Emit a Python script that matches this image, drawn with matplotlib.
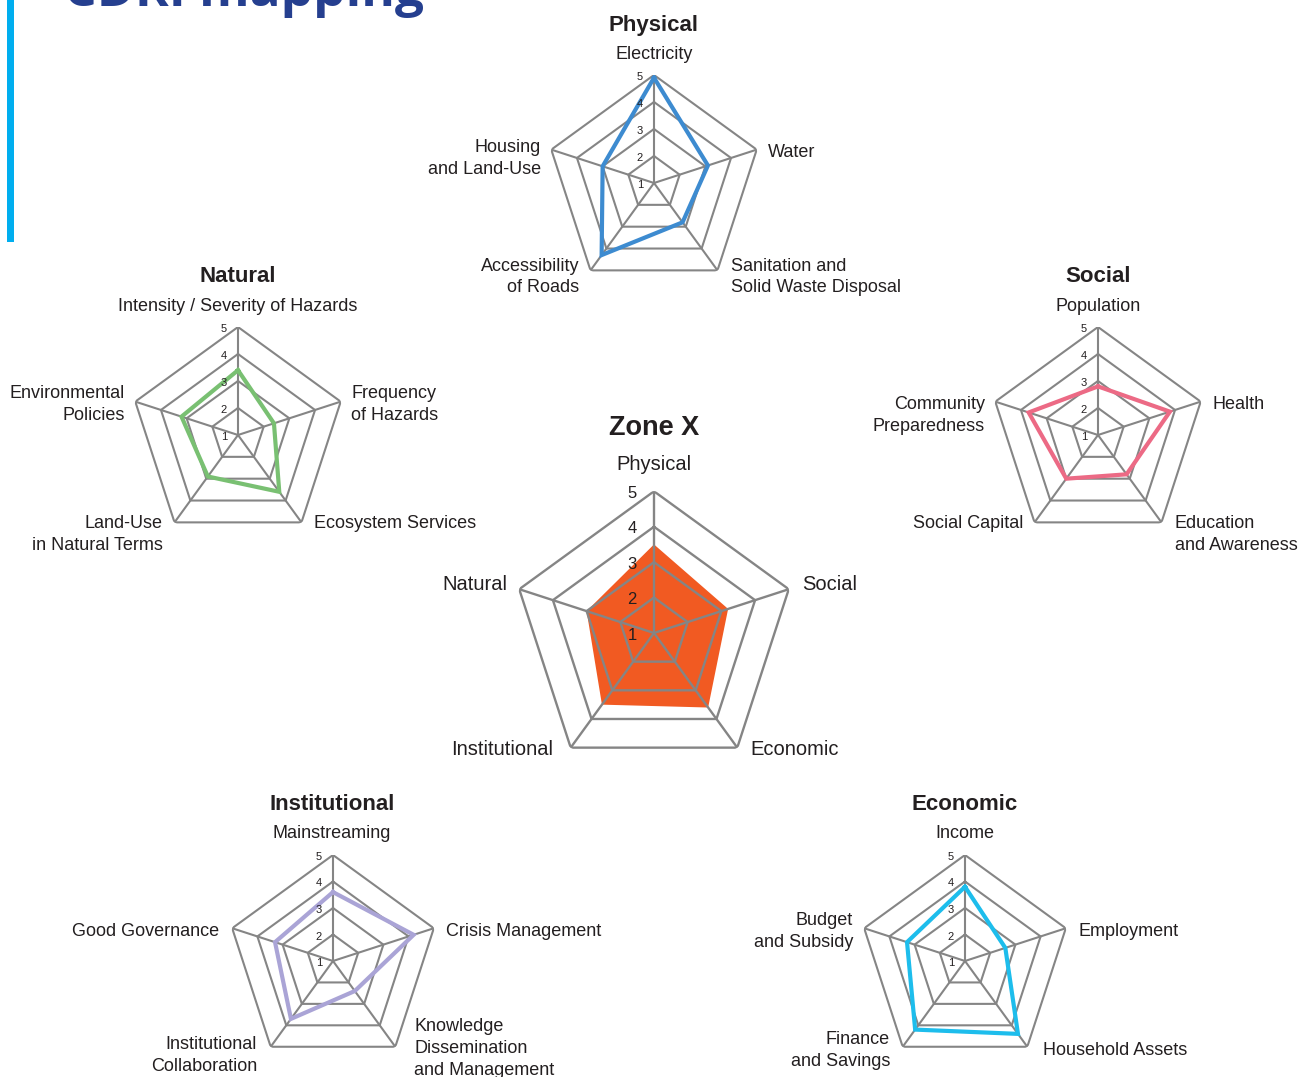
import matplotlib
matplotlib.use("Agg")
import matplotlib.pyplot as plt
import numpy as np
from matplotlib.transforms import offset_copy

plt.rcParams['font.family'] = ['Liberation Sans', 'DejaVu Sans']

# data (scale 1-5)
zone_axes = ["Physical", "Social", "Economic", "Institutional", "Natural"]
zone_values = [3.5, 3.2, 3.6, 3.5, 3.0]

physical_axes = ["Electricity", "Water", "Sanitation and\nSolid Waste Disposal",
                 "Accessibility\nof Roads", "Housing\nand Land-Use"]
physical_values = [4.9, 3.1, 2.8, 4.3, 3.0]

natural_axes = ["Intensity / Severity of Hazards", "Frequency\nof Hazards",
                "Ecosystem Services", "Land-Use\nin Natural Terms", "Environmental\nPolicies"]
natural_values = [3.4, 2.4, 3.6, 2.9, 3.2]

social_axes = ["Population", "Health", "Education\nand Awareness", "Social Capital",
               "Community\nPreparedness"]
social_values = [2.8, 3.8, 2.8, 3.0, 3.7]

institutional_axes = ["Mainstreaming", "Crisis Management",
                      "Knowledge\nDissemination\nand Management",
                      "Institutional\nCollaboration", "Good Governance"]
institutional_values = [3.6, 4.2, 2.4, 3.7, 3.3]

economic_axes = ["Income", "Employment", "Household Assets", "Finance\nand Savings",
                 "Budget\nand Subsidy"]
economic_values = [3.8, 2.6, 4.4, 4.2, 3.3]

levels = [1, 2, 3, 4, 5]

W, H = 1311, 1077
GRAY = '#858585'
TXT = '#231f20'

fig = plt.figure(figsize=(W / 100, H / 100), dpi=100)
fig.patch.set_facecolor('white')


def px(x, y):
    return x / W, 1 - y / H


def radar(cx, cy, R, values, color, fill=False, tick_fs=8, tick_dx=11, grid_lw=1.5):
    ax = fig.add_axes([(cx - R) / W, (H - cy - R) / H, 2 * R / W, 2 * R / H],
                      projection='polar')
    ax.set_theta_offset(np.pi / 2)
    ax.set_theta_direction(-1)
    ax.set_ylim(1, 5)
    ax.axis('off')
    ang = np.linspace(0, 2 * np.pi, len(values), endpoint=False)
    ang_c = np.append(ang, ang[0])
    vals = np.append(values, values[0])
    if fill:
        ax.fill(ang_c, vals, color=color, lw=0, zorder=1)
    else:
        ax.plot(ang_c, vals, color=color, lw=3, zorder=3, solid_joinstyle='miter')
    for lev in levels[1:]:
        ax.plot(ang_c, [lev] * len(ang_c), color=GRAY, lw=grid_lw, zorder=2)
    for a in ang:
        ax.plot([a, a], [levels[0], levels[-1]], color=GRAY, lw=grid_lw, zorder=2)
    tr = offset_copy(ax.transData, fig=fig, x=-tick_dx, y=-2, units='dots')
    for lev in levels:
        ax.text(0, lev, str(lev), transform=tr, ha='right', va='center',
                fontsize=tick_fs, color=TXT, zorder=4)
    return ax


def labels(title, tpos, names, pos, title_fs=16, fs=13):
    fig.text(*px(tpos[0], tpos[1] + 2), title, ha='center', va='center',
             fontsize=title_fs, fontweight='bold', color=TXT)
    for name, (x, y, ha) in zip(names, pos):
        fig.text(*px(x, y + 1.5), name, ha=ha, va='center', fontsize=fs, color=TXT,
                 linespacing=1.36)


# header (cut off at the top, as in the source page)
fig.text(*px(64, 6), "CDRI mapping", ha='left', va='baseline', fontsize=37,
         fontweight='bold', color='#253f8f', family=['Open Sans', 'DejaVu Sans'])
fig.add_artist(plt.Rectangle(px(7, 242), 7 / W, 242 / H, transform=fig.transFigure,
                             color='#00aeef', lw=0))

# physical
radar(654, 183, 108, physical_values, '#3d8bd0')
labels("Physical", (654, 23), physical_axes,
       [(654, 53, 'center'), (768, 151, 'left'), (731, 275.5, 'left'),
        (579, 275.5, 'right'), (541, 157, 'right')])

# natural
radar(238, 435, 108, natural_values, '#79c072')
labels("Natural", (238, 275), natural_axes,
       [(238, 305, 'center'), (351, 403, 'left'), (314, 522, 'left'),
        (163, 533, 'right'), (125, 403, 'right')])

# social
radar(1098, 435, 108, social_values, '#ec6a85')
labels("Social", (1098, 275), social_axes,
       [(1098, 305, 'center'), (1212, 403, 'left'), (1175, 533, 'left'),
        (1023, 522, 'right'), (985, 414, 'right')])

# zone x
radar(654, 633, 141.7, zone_values, '#f15a22', fill=True, tick_fs=12, tick_dx=17,
      grid_lw=1.7)
labels("Zone X", (654, 426), zone_axes,
       [(654, 463, 'center'), (802, 583, 'left'), (750, 748, 'left'),
        (553, 748, 'right'), (507, 583, 'right')], title_fs=19.5, fs=14.5)

# institutional
radar(333, 961, 106, institutional_values, '#aaa4d6')
labels("Institutional", (332, 802), institutional_axes,
       [(332, 832, 'center'), (446, 930, 'left'), (414, 1047, 'left'),
        (257, 1054, 'right'), (219, 930, 'right')])

# economic
radar(965, 961, 106, economic_values, '#1dbdec')
labels("Economic", (965, 802), economic_axes,
       [(965, 832, 'center'), (1079, 930, 'left'), (1043, 1049, 'left'),
        (890, 1049, 'right'), (853, 930, 'right')])

fig.savefig("out.png", dpi=100, facecolor='white')
